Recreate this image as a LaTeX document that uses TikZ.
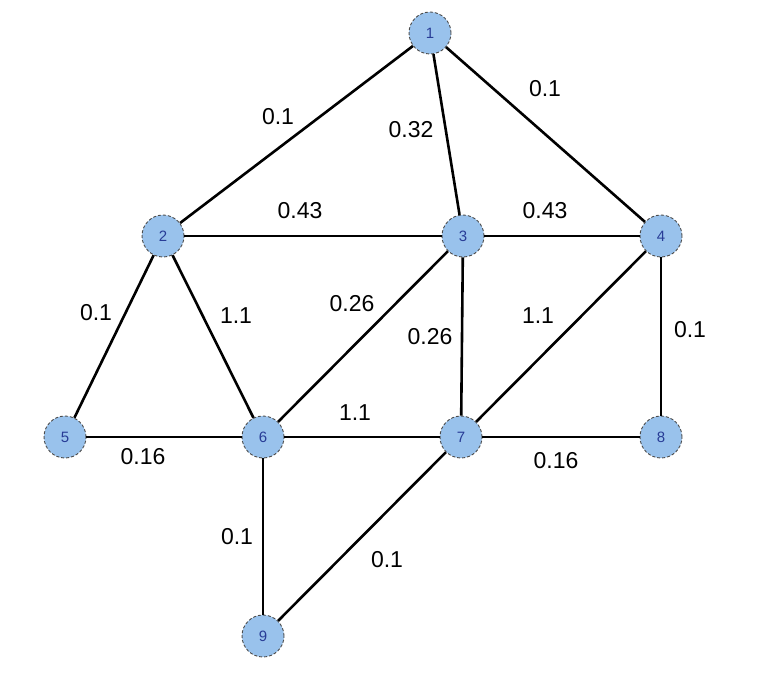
\documentclass[tikz,border=0pt]{standalone}
\usepackage{fontspec}
\setmainfont{Liberation Sans}
\usepackage{tikz}
\usetikzlibrary{positioning}
\definecolor{nodefill}{RGB}{153,194,236}
\definecolor{nodetext}{RGB}{40,60,150}
\tikzset{
  vertex/.style={circle, draw=black!70, densely dashed, line width=0.9pt, fill=nodefill,
    minimum size=42pt, inner sep=0pt, text=nodetext, font=\fontsize{15}{15}\selectfont},
  wt/.style={font=\fontsize{23}{23}\selectfont, inner sep=1pt},
  edge/.style={line width=2.6pt, black}
}

\begin{document}
\begin{tikzpicture}[x=1pt,y=-1pt]
\useasboundingbox (0,0) rectangle (778,676);
% vertices
\node[vertex] (v1) at (430,33) {1};
\node[vertex] (v2) at (163,236) {2};
\node[vertex] (v3) at (463,236) {3};
\node[vertex] (v4) at (661,236) {4};
\node[vertex] (v5) at (65,437) {5};
\node[vertex] (v6) at (263,437) {6};
\node[vertex] (v7) at (461,437) {7};
\node[vertex] (v8) at (661,437) {8};
\node[vertex] (v9) at (263,636) {9};
% edges
\draw[edge] (v1) -- (v2);
\draw[edge] (v1) -- (v3);
\draw[edge] (v1) -- (v4);
\draw[edge] (v2) -- (v3);
\draw[edge] (v3) -- (v4);
\draw[edge] (v2) -- (v5);
\draw[edge] (v2) -- (v6);
\draw[edge] (v3) -- (v6);
\draw[edge] (v3) -- (v7);
\draw[edge] (v4) -- (v7);
\draw[edge] (v4) -- (v8);
\draw[edge] (v5) -- (v6);
\draw[edge] (v6) -- (v7);
\draw[edge] (v7) -- (v8);
\draw[edge] (v6) -- (v9);
\draw[edge] (v7) -- (v9);
% weights
\node[wt] (w12) at (278,117) {0.1};
\node[wt] (w13) at (411,130) {0.32};
\node[wt] (w14) at (545,89) {0.1};
\node[wt] (w23) at (300,211) {0.43};
\node[wt] (w34) at (545,211) {0.43};
\node[wt] (w25) at (96,313) {0.1};
\node[wt] (w26) at (236,316) {1.1};
\node[wt] (w36) at (352,304) {0.26};
\node[wt] (w37) at (430,337) {0.26};
\node[wt] (w47) at (538,316) {1.1};
\node[wt] (w48) at (690,330) {0.1};
\node[wt] (w67) at (355,413) {1.1};
\node[wt] (w56) at (143,457) {0.16};
\node[wt] (w78) at (556,461) {0.16};
\node[wt] (w69) at (237,537) {0.1};
\node[wt] (w79) at (387,560) {0.1};
\end{tikzpicture}
\end{document}
